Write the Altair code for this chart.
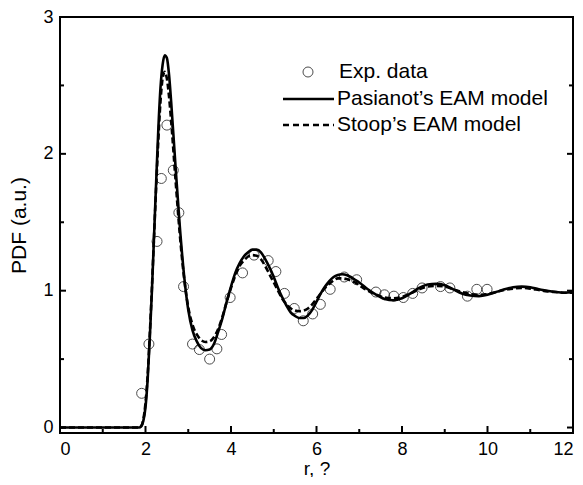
import altair as alt
import pandas as pd

# ---------------- data ----------------
exp_r = [1.91, 2.08, 2.27, 2.37, 2.50, 2.65, 2.78, 2.89, 3.10, 3.26, 3.50, 3.67, 3.78,
         3.98, 4.27, 4.54, 4.87, 5.05, 5.25, 5.48, 5.69, 5.91, 6.09, 6.32, 6.65, 6.94,
         7.39, 7.59, 7.81, 8.03, 8.25, 8.47, 8.90, 9.12, 9.53, 9.75, 9.99]
exp_g = [0.25, 0.61, 1.36, 1.82, 2.21, 1.88, 1.57, 1.03, 0.61, 0.57, 0.50, 0.575, 0.68,
         0.95, 1.13, 1.26, 1.22, 1.14, 0.98, 0.87, 0.78, 0.83, 0.90, 1.01, 1.10, 1.08,
         0.99, 0.97, 0.96, 0.95, 0.98, 1.02, 1.03, 1.02, 0.96, 1.01, 1.01]

pas_r = [0, 1.85, 1.9, 1.95, 2.0, 2.05, 2.1, 2.15, 2.2, 2.25, 2.3, 2.35, 2.4, 2.45, 2.5,
         2.55, 2.6, 2.7, 2.8, 2.9, 3.0, 3.1, 3.2, 3.3, 3.4, 3.5, 3.6, 3.7, 3.8, 3.9, 4.0,
         4.1, 4.2, 4.3, 4.4, 4.5, 4.6, 4.7, 4.8, 4.9, 5.0, 5.1, 5.2, 5.3, 5.4, 5.5, 5.6,
         5.7, 5.8, 5.9, 6.0, 6.1, 6.2, 6.3, 6.4, 6.5, 6.6, 6.7, 6.8, 6.9, 7.0, 7.2, 7.4,
         7.6, 7.8, 8.0, 8.2, 8.4, 8.6, 8.8, 9.0, 9.2, 9.4, 9.6, 9.8, 10.0, 10.2, 10.4,
         10.6, 10.8, 11.0, 11.2, 11.4, 11.6, 11.8, 12.0]
pas_g = [0, 0, 0.01, 0.05, 0.15, 0.35, 0.65, 1.0, 1.4, 1.8, 2.18, 2.48, 2.65, 2.72, 2.70,
         2.58, 2.38, 1.92, 1.48, 1.12, 0.86, 0.71, 0.63, 0.58, 0.565, 0.57, 0.61, 0.70,
         0.80, 0.92, 1.03, 1.13, 1.20, 1.25, 1.28, 1.30, 1.30, 1.28, 1.23, 1.17, 1.10,
         1.02, 0.95, 0.89, 0.84, 0.815, 0.80, 0.80, 0.82, 0.86, 0.92, 0.98, 1.03, 1.07,
         1.10, 1.115, 1.12, 1.115, 1.10, 1.08, 1.06, 1.01, 0.97, 0.94, 0.93, 0.945, 0.98,
         1.02, 1.045, 1.05, 1.04, 1.01, 0.98, 0.965, 0.96, 0.97, 0.99, 1.01, 1.025, 1.03,
         1.025, 1.01, 1.0, 0.99, 0.985, 0.99]

stp_r = pas_r
stp_g = [0, 0, 0.01, 0.06, 0.18, 0.38, 0.68, 1.02, 1.4, 1.76, 2.1, 2.38, 2.55, 2.6, 2.55,
         2.42, 2.24, 1.82, 1.42, 1.1, 0.88, 0.75, 0.68, 0.64, 0.625, 0.63, 0.66, 0.72,
         0.81, 0.92, 1.02, 1.11, 1.18, 1.22, 1.25, 1.26, 1.255, 1.23, 1.18, 1.12, 1.06,
         1.0, 0.94, 0.9, 0.87, 0.855, 0.85, 0.855, 0.87, 0.9, 0.94, 0.98, 1.02, 1.05,
         1.075, 1.09, 1.09, 1.085, 1.075, 1.06, 1.04, 1.0, 0.97, 0.95, 0.945, 0.955, 0.98,
         1.01, 1.03, 1.035, 1.03, 1.01, 0.99, 0.975, 0.97, 0.975, 0.99, 1.005, 1.015, 1.02,
         1.015, 1.005, 0.995, 0.99, 0.985, 0.985]

x_major = [0, 2, 4, 6, 8, 10, 12]
x_minor = [1, 3, 5, 7, 9, 11]
y_major = [0, 1, 2, 3]
y_minor = [0.5, 1.5, 2.5]
legend_labels = ["Exp. data", "Pasianot\u2019s EAM model", "Stoop\u2019s EAM model"]

# ---------------- chart ----------------
W, H = 513, 416
FONT = "Liberation Sans"

xs = alt.Scale(domain=[0, 12], nice=False, zero=False)
ys = alt.Scale(domain=[-0.04, 3], nice=False, zero=False)

xaxis = alt.Axis(values=x_major, format="d", ticks=False, tickSize=0, domain=False,
                 grid=False, labelPadding=7, labelFontSize=18, title="r, ?",
                 titleFontSize=19, titleFontWeight="normal",
                 titleY=41, titleBaseline="alphabetic")
yaxis = alt.Axis(values=y_major, format="d", ticks=False, tickSize=0, domain=False,
                 grid=False, labelPadding=7, labelFontSize=18, title="PDF (a.u.)",
                 titleFontSize=21, titleFontWeight="normal", titlePadding=13)


def X(f="r"):
    return alt.X(f, type="quantitative", scale=xs, axis=xaxis)


def Y(f="g"):
    return alt.Y(f, type="quantitative", scale=ys, axis=yaxis)


exp_df = pd.DataFrame({"r": exp_r, "g": exp_g})
pas_df = pd.DataFrame({"r": pas_r, "g": pas_g})
stp_df = pd.DataFrame({"r": stp_r, "g": stp_g})

pas = alt.Chart(pas_df).mark_line(color="black", strokeWidth=2.6,
                                  interpolate="monotone").encode(x=X(), y=Y())
stp = alt.Chart(stp_df).mark_line(color="black", strokeWidth=2.6, strokeDash=[6, 3],
                                  interpolate="monotone").encode(x=X(), y=Y())
pts = alt.Chart(exp_df).mark_point(shape="circle", filled=False, color="black",
                                   size=100, strokeWidth=1).encode(x=X(), y=Y())

tk = dict(color="black", strokeWidth=2)
xmaj = alt.Chart(pd.DataFrame({"r": x_major})).mark_rule(**tk).encode(
    x=X(), y=alt.value(H), y2=alt.value(H - 7))
xmin = alt.Chart(pd.DataFrame({"r": x_minor})).mark_rule(**tk).encode(
    x=X(), y=alt.value(H), y2=alt.value(H - 4))
ymaj_l = alt.Chart(pd.DataFrame({"g": y_major})).mark_rule(**tk).encode(
    y=Y(), x=alt.value(0), x2=alt.value(6))
ymin_l = alt.Chart(pd.DataFrame({"g": y_minor})).mark_rule(**tk).encode(
    y=Y(), x=alt.value(0), x2=alt.value(4))
ymaj_r = alt.Chart(pd.DataFrame({"g": y_major})).mark_rule(**tk).encode(
    y=Y(), x=alt.value(W), x2=alt.value(W - 6))
ymin_r = alt.Chart(pd.DataFrame({"g": y_minor})).mark_rule(**tk).encode(
    y=Y(), x=alt.value(W), x2=alt.value(W - 4))

one = pd.DataFrame({"t": [0]})
leg_pt = alt.Chart(one).mark_point(shape="circle", filled=False, color="black",
                                   size=100, strokeWidth=1).encode(
    x=alt.value(248), y=alt.value(55))
leg_solid = alt.Chart(one).mark_rule(color="black", strokeWidth=2.6).encode(
    x=alt.value(223), x2=alt.value(274), y=alt.value(82))
leg_dash = alt.Chart(one).mark_rule(color="black", strokeWidth=2.6,
                                    strokeDash=[6, 4]).encode(
    x=alt.value(223), x2=alt.value(274), y=alt.value(108))

leg_texts = []
for lbl, ty, tx in zip(legend_labels, [55, 82, 108], [279, 277, 277]):
    leg_texts.append(
        alt.Chart(pd.DataFrame({"t": [lbl]})).mark_text(
            align="left", baseline="middle", font=FONT, fontSize=21, color="black"
        ).encode(x=alt.value(tx), y=alt.value(ty), text="t:N")
    )

chart = alt.layer(
    xmaj, xmin, ymaj_l, ymin_l, ymaj_r, ymin_r,
    pas, stp, pts,
    leg_pt, leg_solid, leg_dash, *leg_texts
).properties(
    width=W, height=H,
    padding={"left": 52, "top": 9, "right": 2, "bottom": 44},
    autosize=alt.AutoSizeParams(type="none"),
).configure_view(
    stroke="black", strokeWidth=2
).configure_axis(
    labelFont=FONT, titleFont=FONT, labelColor="black", titleColor="black"
)

chart.save("out.html", embed_options={"renderer": "svg", "actions": False})
